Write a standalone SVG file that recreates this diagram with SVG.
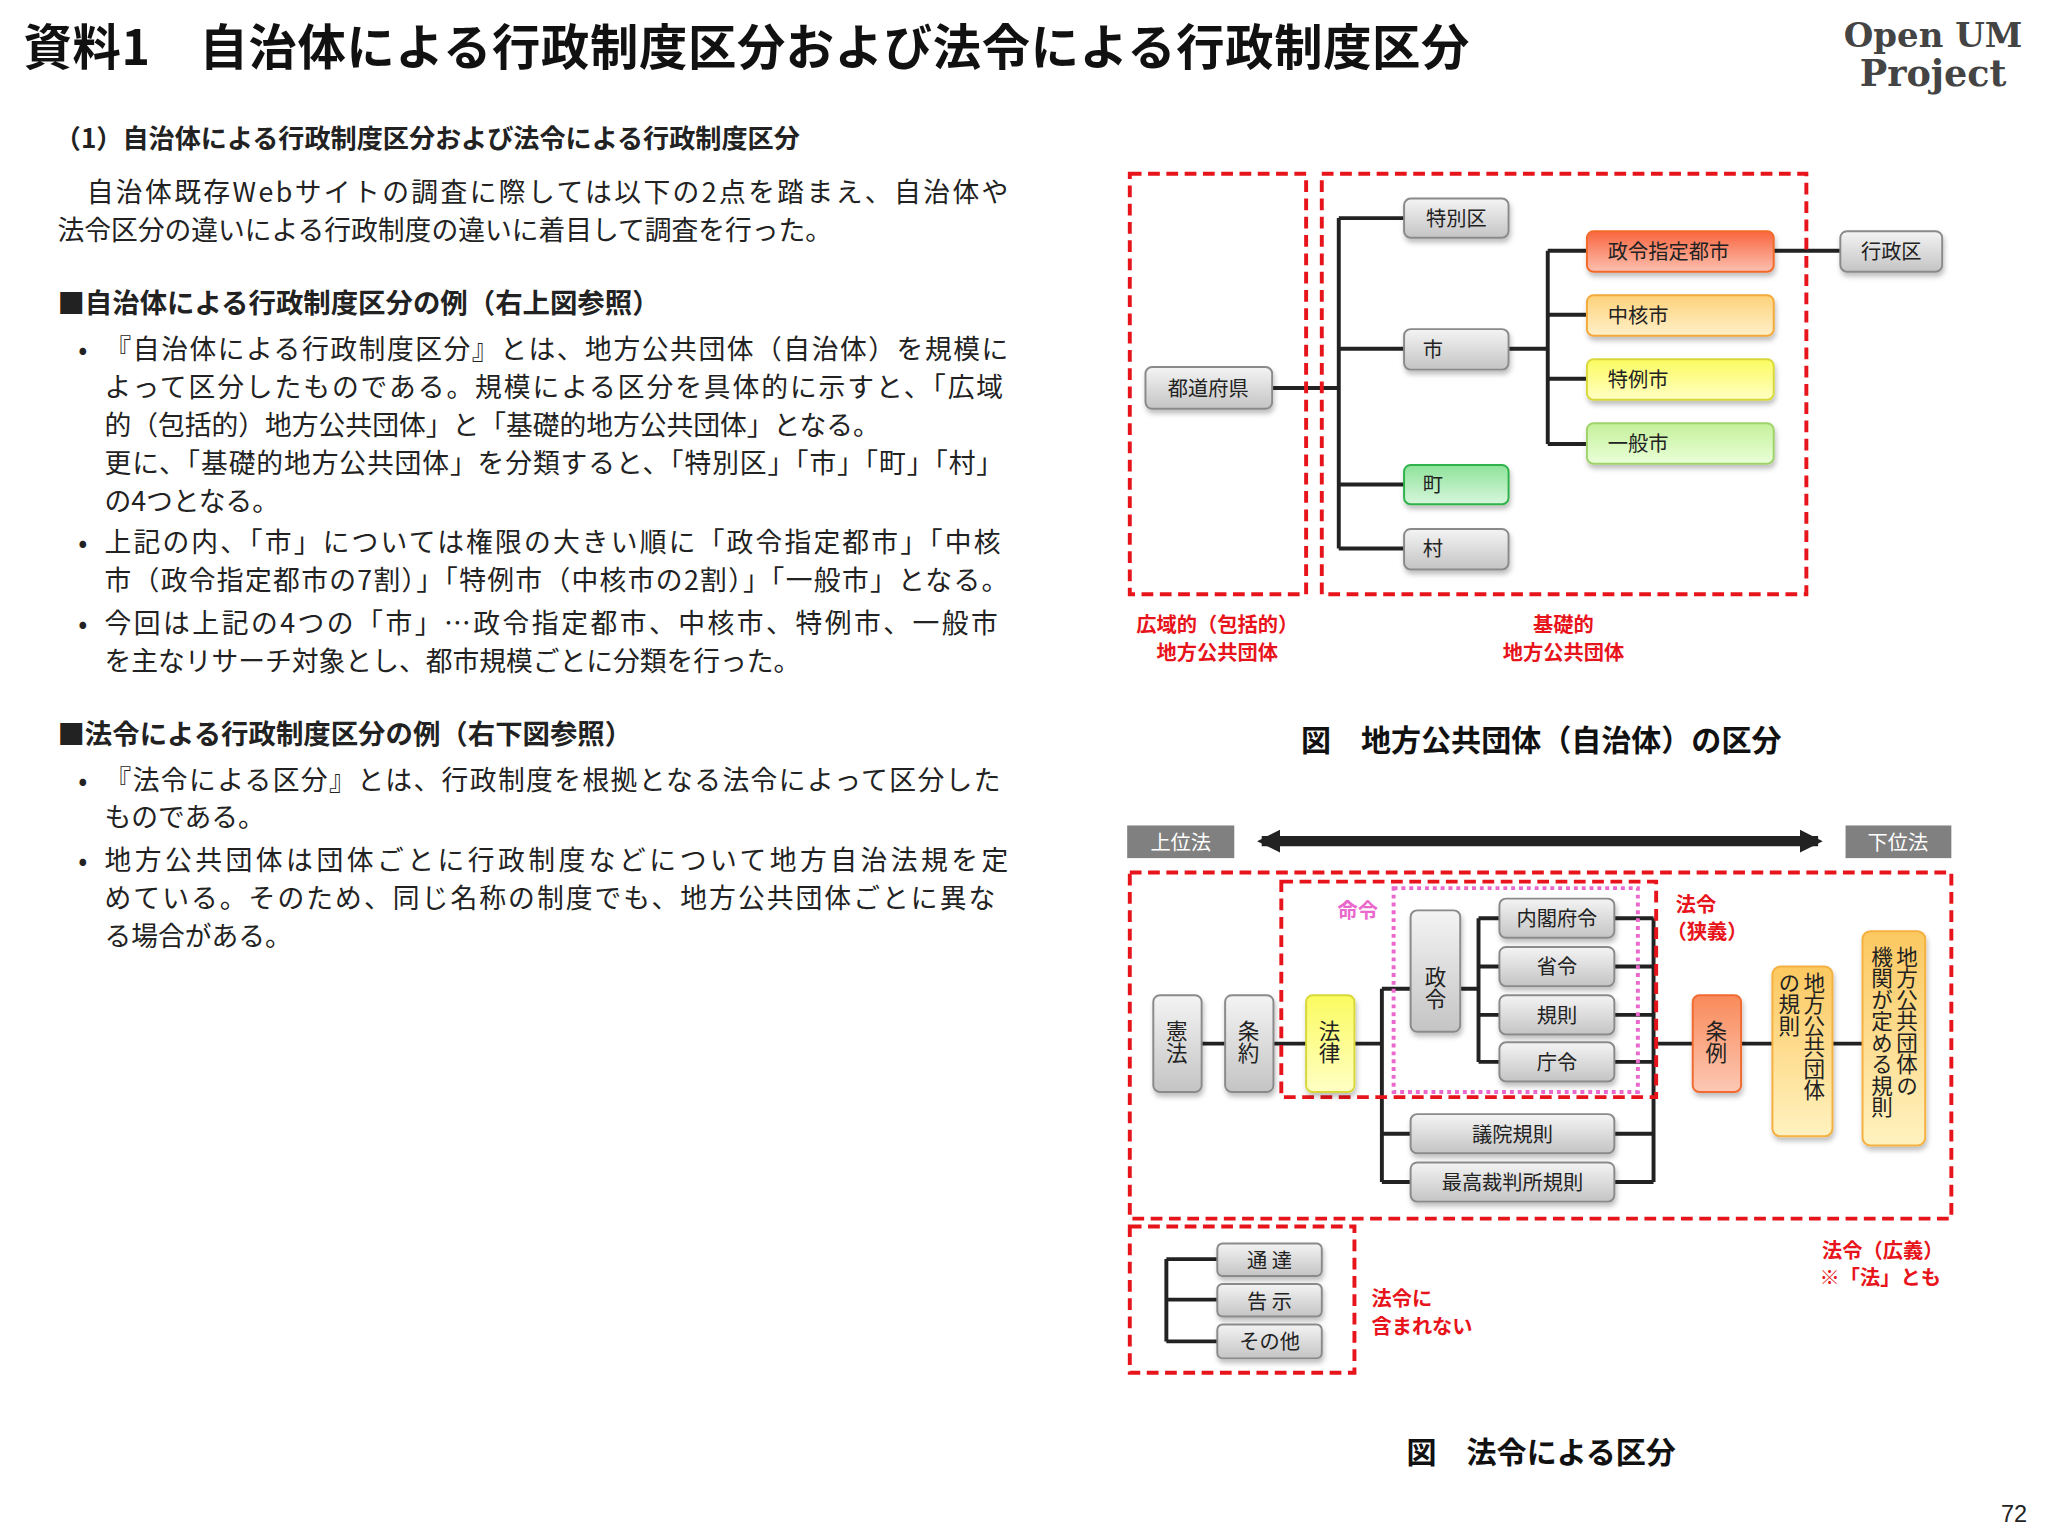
<svg xmlns="http://www.w3.org/2000/svg" width="2048" height="1536" viewBox="0 0 2048 1536">
<defs>
<linearGradient id="gGray" x1="0" y1="0" x2="0" y2="1"><stop offset="0" stop-color="#f4f4f4"/><stop offset="1" stop-color="#c4c4c4"/></linearGradient>
<linearGradient id="gRed" x1="0" y1="0" x2="0" y2="1"><stop offset="0" stop-color="#f9653e"/><stop offset="1" stop-color="#fcc0b0"/></linearGradient>
<linearGradient id="gOrange" x1="0" y1="0" x2="0" y2="1"><stop offset="0" stop-color="#fdd27a"/><stop offset="1" stop-color="#fff0c8"/></linearGradient>
<linearGradient id="gYellow" x1="0" y1="0" x2="0" y2="1"><stop offset="0" stop-color="#fbfb60"/><stop offset="1" stop-color="#ffffc4"/></linearGradient>
<linearGradient id="gGreen" x1="0" y1="0" x2="0" y2="1"><stop offset="0" stop-color="#c4f09a"/><stop offset="1" stop-color="#eaffd8"/></linearGradient>
<linearGradient id="gGreen2" x1="0" y1="0" x2="0" y2="1"><stop offset="0" stop-color="#8ee39a"/><stop offset="1" stop-color="#d8f6dc"/></linearGradient>
<linearGradient id="gJorei" x1="0" y1="0" x2="0" y2="1"><stop offset="0" stop-color="#f98a5a"/><stop offset="1" stop-color="#fcc8b4"/></linearGradient>
<linearGradient id="gLocal" x1="0" y1="0" x2="0" y2="1"><stop offset="0" stop-color="#fcc860"/><stop offset="1" stop-color="#fff2c0"/></linearGradient>
<filter id="sh" x="-10%" y="-10%" width="130%" height="140%"><feDropShadow dx="1" dy="3" stdDeviation="2" flood-color="#000" flood-opacity="0.25"/></filter>
<marker id="ah" viewBox="0 0 10 10" refX="8" refY="5" markerWidth="2.2" markerHeight="3.2" orient="auto-start-reverse"><path d="M0,0 L10,5 L0,10 z" fill="#222"/></marker>
<style>
text{font-family:"Noto Sans CJK JP","Noto Sans",sans-serif;fill:#222}
.title{font-size:37px;font-weight:bold;fill:#111}
.h{font-size:20px;font-weight:bold}
.b{font-size:20.5px}
.n{fill:url(#gGray);stroke:#8a8a8a;stroke-width:1.5;filter:url(#sh)}
.nt{font-size:15.5px;text-anchor:middle}
.vt{font-size:16.5px;writing-mode:vertical-rl}
.ln{stroke:#222;stroke-width:3;fill:none}
.dr{fill:none;stroke:#e8141b;stroke-width:3;stroke-dasharray:9,5}
.red{fill:#e8141b;font-weight:bold;font-size:15.5px}
.cap{font-size:23px;font-weight:bold;text-anchor:middle;fill:#111}
</style>
</defs>
<rect width="2048" height="1536" fill="#fff"/>
<g transform="scale(1.30612)">
<g id="header">
<text class="title" x="18" y="50" textLength="1107">資料1　自治体による行政制度区分および法令による行政制度区分</text>
<text x="1480" y="36" font-size="26" text-anchor="middle" style="font-family:'DejaVu Serif',serif;fill:#444;font-weight:bold">Open UM</text>
<text x="1480" y="66" font-size="28" text-anchor="middle" style="font-family:'DejaVu Serif',serif;fill:#444;font-weight:bold">Project</text>
</g>
<g id="bodytext">
<text class="h" x="42" y="113">（1）自治体による行政制度区分および法令による行政制度区分</text>
<text class="b" x="44" y="155" textLength="728">　自治体既存Webサイトの調査に際しては以下の2点を踏まえ、自治体や</text>
<text class="b" x="44" y="184">法令区分の違いによる行政制度の違いに着目して調査を行った。</text>
<text class="h" x="44" y="240" style="font-size:21px">■自治体による行政制度区分の例（右上図参照）</text>
<text class="b" x="60" y="275">•</text>
<text class="b" x="80" y="275" textLength="692">『自治体による行政制度区分』とは、地方公共団体（自治体）を規模に</text>
<text class="b" x="80" y="304" textLength="688">よって区分したものである。規模による区分を具体的に示すと、「広域</text>
<text class="b" x="80" y="333">的（包括的）地方公共団体」と「基礎的地方公共団体」となる。</text>
<text class="b" x="80" y="362" textLength="688">更に、「基礎的地方公共団体」を分類すると、「特別区」「市」「町」「村」</text>
<text class="b" x="80" y="391">の4つとなる。</text>
<text class="b" x="60" y="423">•</text>
<text class="b" x="80" y="423" textLength="686">上記の内、「市」については権限の大きい順に「政令指定都市」「中核</text>
<text class="b" x="80" y="452" textLength="692">市（政令指定都市の7割）」「特例市（中核市の2割）」「一般市」となる。</text>
<text class="b" x="60" y="485">•</text>
<text class="b" x="80" y="485" textLength="684">今回は上記の4つの「市」…政令指定都市、中核市、特例市、一般市</text>
<text class="b" x="80" y="514">を主なリサーチ対象とし、都市規模ごとに分類を行った。</text>
<text class="h" x="44" y="570" style="font-size:21px">■法令による行政制度区分の例（右下図参照）</text>
<text class="b" x="60" y="605">•</text>
<text class="b" x="80" y="605" textLength="686">『法令による区分』とは、行政制度を根拠となる法令によって区分した</text>
<text class="b" x="80" y="633">ものである。</text>
<text class="b" x="60" y="666">•</text>
<text class="b" x="80" y="666" textLength="692">地方公共団体は団体ごとに行政制度などについて地方自治法規を定</text>
<text class="b" x="80" y="695" textLength="682">めている。そのため、同じ名称の制度でも、地方公共団体ごとに異な</text>
<text class="b" x="80" y="724">る場合がある。</text>
</g>
<g id="connectors">
<path class="ln" d="M974,297H1025M1025,167V420M1025,167H1075M1025,267H1075M1025,371H1075M1025,420H1075M1155,267H1185M1185,192V340M1185,192H1215M1185,241H1215M1185,290H1215M1185,340H1215M1358,192H1409"/>
<path class="ln" d="M920,799H938M975,799H1000M1037,799H1058M1058,757V905M1058,757H1080M1058,868H1080M1058,905H1080M1118,757H1132M1132,703V813M1132,703H1148M1132,740H1148M1132,777H1148M1132,813H1148M1236,703H1266M1236,740H1266M1236,777H1266M1236,813H1266M1236,868H1266M1236,905H1266M1266,703V905M1266,799H1296M1333,799H1357M1403,799H1426"/>
<path class="ln" d="M893,964V1027M893,964H932M893,995H932M893,1027H932"/>
<line x1="966" y1="644" x2="1392" y2="644" stroke="#222" stroke-width="8" marker-start="url(#ah)" marker-end="url(#ah)"/>
</g>
<g id="zones">
<rect class="dr" x="865" y="133" width="135" height="322"/>
<rect class="dr" x="1012" y="133" width="371" height="322"/>
<rect class="dr" x="865" y="668" width="629" height="265"/>
<rect class="dr" x="981" y="675" width="287" height="165"/>
<rect x="1067" y="680" width="187" height="156" fill="none" stroke="#ea68cc" stroke-width="3" stroke-dasharray="3,3"/>
<rect class="dr" x="865" y="939" width="172" height="112"/>
<text class="red" x="932" y="484" text-anchor="middle">広域的（包括的）</text>
<text class="red" x="932" y="505" text-anchor="middle">地方公共団体</text>
<text class="red" x="1197" y="484" text-anchor="middle">基礎的</text>
<text class="red" x="1197" y="505" text-anchor="middle">地方公共団体</text>
<text class="red" x="1024" y="703" style="fill:#ea68cc">命令</text>
<text class="red" x="1283" y="698">法令</text>
<text class="red" x="1276" y="719">（狭義）</text>
<text class="red" x="1050" y="1000">法令に</text>
<text class="red" x="1050" y="1021">含まれない</text>
<text class="red" x="1488" y="963" text-anchor="end">法令（広義）</text>
<text class="red" x="1486" y="984" text-anchor="end">※「法」とも</text>
</g>
<g id="n-todofuken"><rect class="n" x="877" y="281" width="97" height="32" rx="5"/><text class="nt" x="925" y="303">都道府県</text></g>
<g id="n-tokubetsuku"><rect class="n" x="1075" y="152" width="80" height="30" rx="5"/><text class="nt" x="1115" y="173">特別区</text></g>
<g id="n-shi"><rect class="n" x="1075" y="252" width="80" height="31" rx="5"/><text class="nt" x="1097" y="273">市</text></g>
<g id="n-machi"><rect class="n" x="1075" y="356" width="80" height="30" rx="5" style="fill:url(#gGreen2);stroke:#2fb24a"/><text class="nt" x="1097" y="377">町</text></g>
<g id="n-mura"><rect class="n" x="1075" y="405" width="80" height="31" rx="5"/><text class="nt" x="1097" y="426">村</text></g>
<g id="n-seirei"><rect class="n" x="1215" y="177" width="143" height="31" rx="5" style="fill:url(#gRed);stroke:#f26a2a"/><text class="nt" x="1231" y="198" style="text-anchor:start">政令指定都市</text></g>
<g id="n-chukaku"><rect class="n" x="1215" y="226" width="143" height="31" rx="5" style="fill:url(#gOrange);stroke:#f4a93a"/><text class="nt" x="1231" y="247" style="text-anchor:start">中核市</text></g>
<g id="n-tokurei"><rect class="n" x="1215" y="275" width="143" height="31" rx="5" style="fill:url(#gYellow);stroke:#d8d83a"/><text class="nt" x="1231" y="296" style="text-anchor:start">特例市</text></g>
<g id="n-ippan"><rect class="n" x="1215" y="324" width="143" height="31" rx="5" style="fill:url(#gGreen);stroke:#9ed36a"/><text class="nt" x="1231" y="345" style="text-anchor:start">一般市</text></g>
<g id="n-gyoseiku"><rect class="n" x="1409" y="177" width="78" height="31" rx="5"/><text class="nt" x="1448" y="198">行政区</text></g>
<text class="cap" x="1180" y="575">図　地方公共団体（自治体）の区分</text>
<g id="n-joui"><rect x="863" y="632" width="82" height="25" fill="#808080"/><text class="nt" x="904" y="651" style="fill:#fff">上位法</text></g>
<g id="n-kai"><rect x="1413" y="632" width="81" height="25" fill="#808080"/><text class="nt" x="1453" y="651" style="fill:#fff">下位法</text></g>
<g id="n-kenpo"><rect class="n" x="883" y="762" width="37" height="74" rx="5"/><text class="vt" x="901" y="781">憲法</text></g>
<g id="n-joyaku"><rect class="n" x="938" y="762" width="37" height="74" rx="5"/><text class="vt" x="956" y="781">条約</text></g>
<g id="n-horitsu"><rect class="n" x="1000" y="762" width="37" height="74" rx="5" style="fill:url(#gYellow);stroke:#d8d83a"/><text class="vt" x="1018" y="781">法律</text></g>
<g id="n-seirei2"><rect class="n" x="1080" y="697" width="38" height="93" rx="5"/><text class="vt" x="1099" y="740">政令</text></g>
<g id="n-naikaku"><rect class="n" x="1148" y="688" width="88" height="30" rx="5"/><text class="nt" x="1192" y="709">内閣府令</text></g>
<g id="n-shorei"><rect class="n" x="1148" y="725" width="88" height="30" rx="5"/><text class="nt" x="1192" y="746">省令</text></g>
<g id="n-kisoku"><rect class="n" x="1148" y="762" width="88" height="30" rx="5"/><text class="nt" x="1192" y="783">規則</text></g>
<g id="n-chorei"><rect class="n" x="1148" y="798" width="88" height="30" rx="5"/><text class="nt" x="1192" y="819">庁令</text></g>
<g id="n-giin"><rect class="n" x="1080" y="853" width="156" height="30" rx="5"/><text class="nt" x="1158" y="874">議院規則</text></g>
<g id="n-saiko"><rect class="n" x="1080" y="890" width="156" height="30" rx="5"/><text class="nt" x="1158" y="911">最高裁判所規則</text></g>
<g id="n-jorei"><rect class="n" x="1296" y="762" width="37" height="74" rx="5" style="fill:url(#gJorei);stroke:#f06a30"/><text class="vt" x="1314" y="781">条例</text></g>
<g id="n-localrule"><rect class="n" x="1357" y="740" width="46" height="130" rx="6" style="fill:url(#gLocal);stroke:#f4b040"/><text class="vt" x="1389" y="744">地方公共団体</text><text class="vt" x="1370" y="744">の規則</text></g>
<g id="n-kikan"><rect class="n" x="1426" y="713" width="48" height="164" rx="6" style="fill:url(#gLocal);stroke:#f4b040"/><text class="vt" x="1460" y="724">地方公共団体の</text><text class="vt" x="1441" y="724">機関が定める規則</text></g>
<g id="n-tsutatsu"><rect class="n" x="932" y="952" width="80" height="25" rx="4"/><text class="nt" x="972" y="971">通 達</text></g>
<g id="n-kokuji"><rect class="n" x="932" y="983" width="80" height="25" rx="4"/><text class="nt" x="972" y="1002">告 示</text></g>
<g id="n-sonota"><rect class="n" x="932" y="1014" width="80" height="26" rx="4"/><text class="nt" x="972" y="1033">その他</text></g>
<text class="cap" x="1180" y="1120">図　法令による区分</text>
<text x="1552" y="1165" text-anchor="end" style="font-size:18px;font-family:'Liberation Sans',sans-serif">72</text>
</g>
</svg>
